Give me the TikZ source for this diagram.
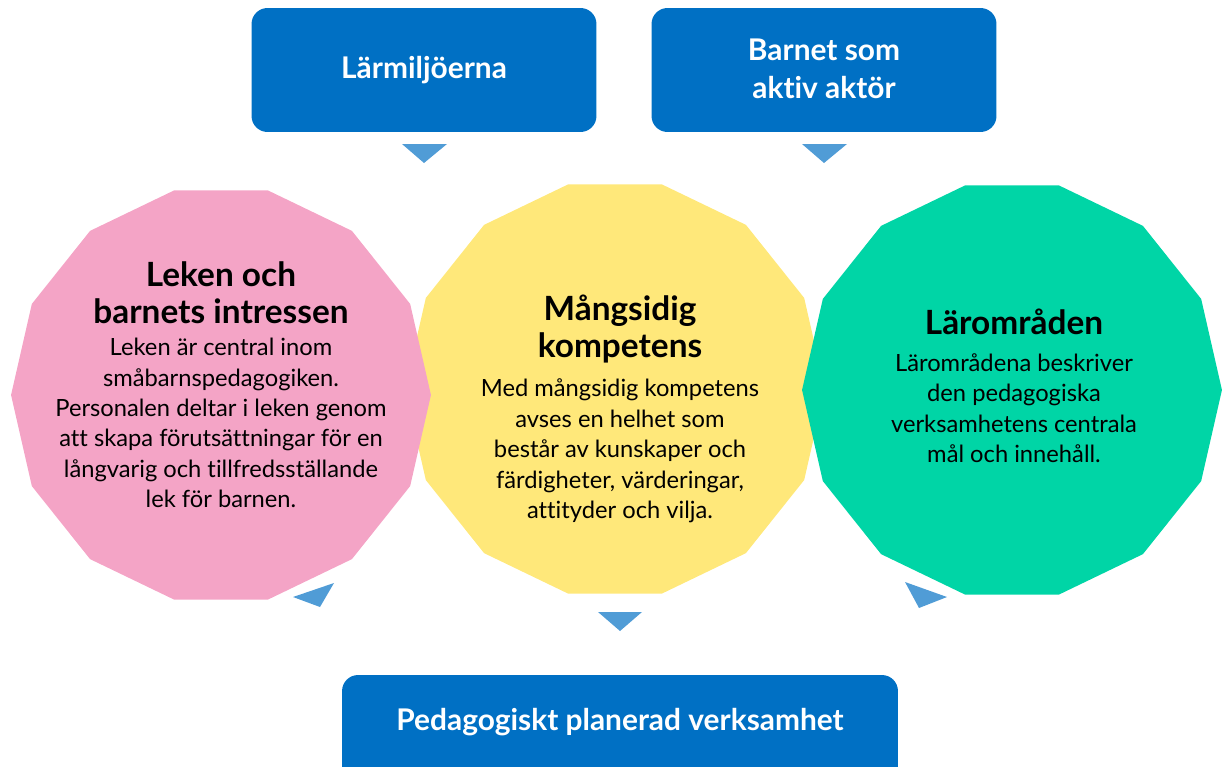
\documentclass[tikz,border=0pt]{standalone}
\usepackage{fontspec}
\setmainfont[Ligatures=NoCommon]{Lato}
\usetikzlibrary{shapes.geometric}
\definecolor{boxblue}{RGB}{0,112,196}
\definecolor{arrowblue}{RGB}{80,156,214}
\definecolor{lekpink}{RGB}{244,164,198}
\definecolor{kompyellow}{RGB}{255,232,122}
\definecolor{omrgreen}{RGB}{0,213,166}
\tikzset{
bluebox/.style={rectangle, rounded corners=0.32cm, fill=boxblue, draw=none, inner sep=0pt, minimum width=6.9cm, minimum height=2.48cm},
boxtext/.style={text=white, font=\bfseries\fontsize{17}{21.6}\selectfont, align=center},
blobnode/.style={regular polygon, regular polygon sides=14, draw=none, inner sep=0pt, minimum size=8.4cm},
titletext/.style={font=\bfseries\fontsize{19}{21}\selectfont, align=center},
bodytext/.style={font=\fontsize{13.5}{17.3}\selectfont, align=center},
pointer/.style={fill=arrowblue, draw=none},
}

\begin{document}
\begin{tikzpicture}[x=0.02cm, y=-0.02cm]
    \useasboundingbox (0,0) rectangle (1227,767);
    % top boxes
    \node[bluebox] at (424,70) (miljo) {};
    \node[boxtext] at (424,70) (miljotext) {Lärmiljöerna};
    \node[bluebox] at (824,70) (aktor) {};
    \node[boxtext] at (824,69) (aktortext) {Barnet som\\aktiv aktör};
    \fill[pointer] (402,144) -- (447,144) -- (424,163) -- cycle;
    \fill[pointer] (802,144) -- (847,144) -- (824,163) -- cycle;
    % the three areas, yellow at the back
    \node[blobnode, fill=kompyellow] at (615,389) (komp) {};
    \node[blobnode, fill=lekpink] at (221,395) (lek) {};
    \node[blobnode, fill=omrgreen] at (1012,390) (omr) {};
    \node[titletext] at (221,293) (lektitle) {Leken och\\barnets intressen};
    \node[bodytext] at (221,423) (lekbody) {Leken är central inom\\småbarnspedagogiken.\\Personalen deltar i leken genom\\att skapa förutsättningar för en\\långvarig och tillfredsställande\\lek för barnen.};
    \node[titletext] at (620,329) (komptitle) {Mångsidig\\kompetens};
    \node[bodytext] at (620,451) (kompbody) {Med mångsidig kompetens\\avses en helhet som\\består av kunskaper och\\färdigheter, värderingar,\\attityder och vilja.};
    \node[titletext] at (1014,322) (omrtitle) {Lärområden};
    \node[bodytext] at (1014,408) (omrbody) {Lärområdena beskriver\\den pedagogiska\\verksamhetens centrala\\mål och innehåll.};
    % pointers down to the bottom box
    \fill[pointer] (293,597) -- (334,583) -- (320,607) -- cycle;
    \fill[pointer] (598,612) -- (642,612) -- (620,631) -- cycle;
    \fill[pointer] (905,582) -- (947,597) -- (919,608) -- cycle;
    % bottom box
    \node[bluebox, minimum width=11.12cm] at (620,737) (plan) {};
    \node[boxtext] at (620,722) (plantext) {Pedagogiskt planerad verksamhet};
\end{tikzpicture}
\end{document}
